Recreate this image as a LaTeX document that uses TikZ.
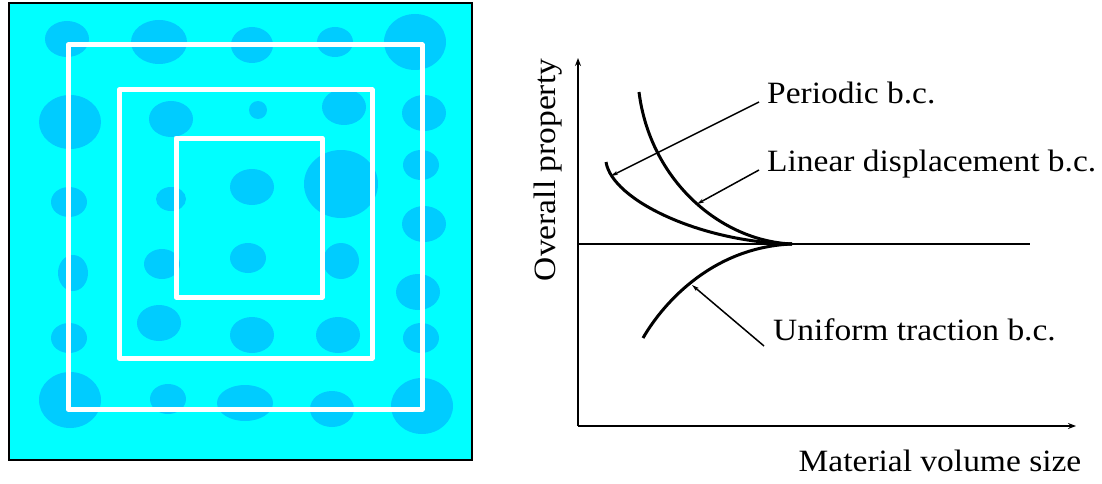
\documentclass[tikz,border=0pt]{standalone}
\usepackage{fontspec}
\setmainfont[FakeStretch=1.08]{Liberation Serif}
\usetikzlibrary{arrows.meta}
\definecolor{matrixc}{RGB}{0,255,255}
\definecolor{incl}{RGB}{0,204,255}
\begin{document}
\begin{tikzpicture}[x=1pt,y=-1pt,
  blob/.style={fill=incl,draw=none},
  window/.style={draw=white,line width=5pt,line join=round},
  axis/.style={line width=2.4pt,-{Stealth[length=8pt,width=6pt]}},
  curve/.style={line width=3pt},
  pointer/.style={line width=1.5pt,-{Stealth[length=7pt,width=4pt]}},
  lab/.style={font=\fontsize{31}{36}\selectfont,inner sep=0pt,anchor=base west}]
\useasboundingbox (0,0) rectangle (1102,484);
% left panel
\node[draw=black,line width=2pt,fill=matrixc,minimum width=463pt,minimum height=457pt,inner sep=0pt,anchor=north west] (panel) at (8,2) {};
\begin{scope}
\clip (8,2) rectangle (471,459);
\foreach \x/\y/\a/\b in {
 67/39/22/18, 159/42/28/22, 252/45/21/18, 335/42/18/15, 415/42/31/28,
 70/122/31/27, 171/119/22/18, 258/110/9/9, 344/107/22/18, 424/113/22/18,
 421/165/18/15, 341/184/37/34, 252/187/22/18, 171/199/15/12, 69/202/18/15, 424/224/22/18,
 73/273/15/18, 162/264/18/15, 248/258/18/15, 341/261/18/18, 418/292/22/18,
 69/338/18/15, 159/323/22/18, 252/335/22/18, 338/335/22/18, 421/338/18/15,
 70/400/31/28, 168/399/18/15, 245/403/28/18, 332/409/22/18, 422/406/31/28}
 {\fill[blob] (\x,\y) ellipse [x radius=\a pt, y radius=\b pt];}
\end{scope}
\draw[window] (68,45) rectangle (422,409);
\draw[window] (119,90) rectangle (372,358);
\draw[window] (176,138) rectangle (322,297);
% right panel: axes
\coordinate (origin) at (578,426);
\coordinate (ytip) at (578,58);
\coordinate (xtip) at (1076,426);
\draw[axis] (origin) -- (ytip);
\draw[axis] (origin) -- (xtip);
\coordinate (h0) at (578,244);
\coordinate (h1) at (1030,244);
\draw[line width=2.6pt] (h0) -- (h1);
% curves
\coordinate (meet) at (792,244);
\coordinate (ld0) at (639,92);
\coordinate (pb0) at (606,162);
\coordinate (ut0) at (643,338);
\draw[curve] (ld0) .. controls (650,180) and (720,241) .. (meet);
\draw[curve] (pb0) .. controls (612,200) and (700,242) .. (meet);
\draw[curve] (ut0) .. controls (665,300) and (715,247) .. (meet);
% labels
\node[lab] (pbl) at (767,103) {Periodic b.c.};
\node[lab] (ldl) at (767,171) {Linear displacement b.c.};
\node[lab] (utl) at (773,340) {Uniform traction b.c.};
\node[lab,anchor=base] (xl) at (940,471) {Material volume size};
\node[lab,anchor=base,rotate=90] (yl) at (555,170) {Overall property};
% pointers
\coordinate (pbs) at (759,102);
\coordinate (pbt) at (611,176);
\coordinate (lds) at (759,170);
\coordinate (ldt) at (697,204);
\coordinate (uts) at (764,346);
\coordinate (utt) at (692,285);
\draw[pointer] (pbs) -- (pbt);
\draw[pointer] (lds) -- (ldt);
\draw[pointer] (uts) -- (utt);
\end{tikzpicture}
\end{document}
